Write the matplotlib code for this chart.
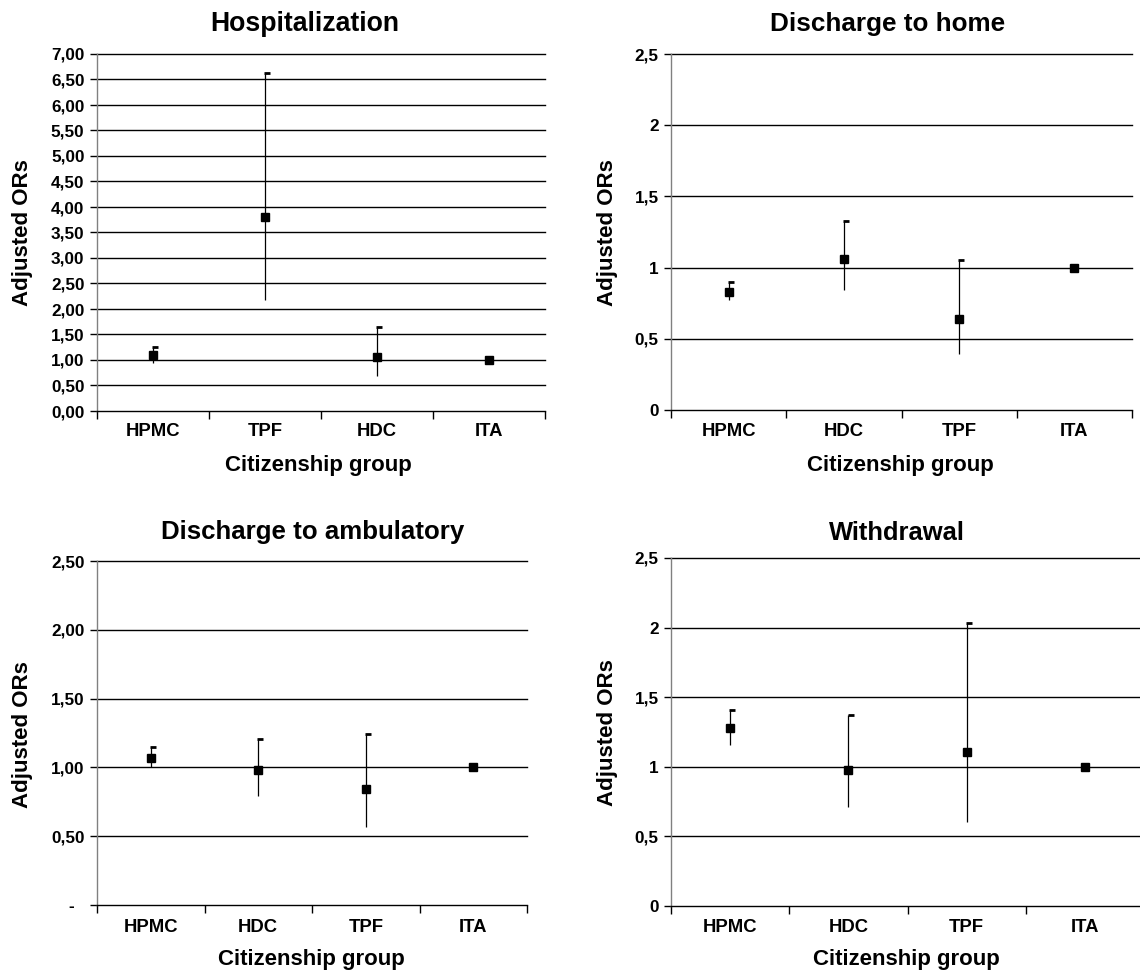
import matplotlib
matplotlib.use("Agg")
import matplotlib.pyplot as plt

plt.rcParams['font.family'] = ['Liberation Sans', 'DejaVu Sans']
plt.rcParams['font.weight'] = 'bold'

W, H = 1140, 971

# ---- data ----
titles = ["Hospitalization", "Discharge to home", "Discharge to ambulatory", "Withdrawal"]

cats_hosp = ["HPMC", "TPF", "HDC", "ITA"]
or_hosp = [1.09, 3.80, 1.06, 1.00]
lo_hosp = [0.94, 2.18, 0.68, 1.00]
hi_hosp = [1.25, 6.62, 1.65, 1.00]

cats_home = ["HPMC", "HDC", "TPF", "ITA"]
or_home = [0.83, 1.06, 0.64, 1.00]
lo_home = [0.77, 0.84, 0.39, 1.00]
hi_home = [0.90, 1.33, 1.05, 1.00]

cats_amb = ["HPMC", "HDC", "TPF", "ITA"]
or_amb = [1.07, 0.98, 0.84, 1.00]
lo_amb = [1.00, 0.79, 0.57, 1.00]
hi_amb = [1.15, 1.205, 1.24, 1.00]

cats_wd = ["HPMC", "HDC", "TPF", "ITA"]
or_wd = [1.28, 0.98, 1.105, 1.00]
lo_wd = [1.16, 0.71, 0.60, 1.00]
hi_wd = [1.41, 1.37, 2.03, 1.00]

yticks_hosp = [i * 0.5 for i in range(15)]
ylabels_hosp = [f"{v:.2f}".replace(".", ",") for v in yticks_hosp]
yticks_home = [0, 0.5, 1, 1.5, 2, 2.5]
ylabels_home = ["0", "0,5", "1", "1,5", "2", "2,5"]
yticks_amb = [0, 0.5, 1, 1.5, 2, 2.5]
ylabels_amb = ["-  ", "0,50", "1,00", "1,50", "2,00", "2,50"]
yticks_wd = [0, 0.5, 1, 1.5, 2, 2.5]
ylabels_wd = ["0", "0,5", "1", "1,5", "2", "2,5"]

panels = [
    dict(title=titles[0], cats=cats_hosp, v=or_hosp, lo=lo_hosp, hi=hi_hosp,
         yt=yticks_hosp, yl=ylabels_hosp, box=(97, 545, 54, 411), tfs=19.2,
         tpos=(305, 24), ylpos=(23, 233), xlpos=(318, 465), xtl_y=432),
    dict(title=titles[1], cats=cats_home, v=or_home, lo=lo_home, hi=hi_home,
         yt=yticks_home, yl=ylabels_home, box=(671, 1132, 54, 410), tfs=18.8,
         tpos=(888, 24), ylpos=(607, 233), xlpos=(900, 465), xtl_y=432),
    dict(title=titles[2], cats=cats_amb, v=or_amb, lo=lo_amb, hi=hi_amb,
         yt=yticks_amb, yl=ylabels_amb, box=(97, 527, 561, 905), tfs=18.6,
         tpos=(313, 532), ylpos=(23, 735), xlpos=(311, 959), xtl_y=927),
    dict(title=titles[3], cats=cats_wd, v=or_wd, lo=lo_wd, hi=hi_wd,
         yt=yticks_wd, yl=ylabels_wd, box=(671, 1144, 558, 906), tfs=18.4,
         tpos=(897, 533), ylpos=(607, 733), xlpos=(906, 959), xtl_y=927),
]

fig = plt.figure(figsize=(W / 100, H / 100), dpi=100)

for p in panels:
    l, r, t, b = p["box"]
    ax = fig.add_axes([l / W, 1 - b / H, (r - l) / W, (b - t) / H])
    n = len(p["cats"])
    x = list(range(n))
    ax.set_xlim(-0.5, n - 0.5)
    ax.set_ylim(p["yt"][0], p["yt"][-1])
    for yv in p["yt"][1:]:
        ax.axhline(yv, color="black", lw=1.0, zorder=1, clip_on=False)
    ax.vlines(x, p["lo"], p["hi"], color="black", lw=0.9, zorder=2)
    idx = [i for i in range(n) if p["hi"][i] != p["v"][i]]
    ax.plot([x[i] + 0.02 for i in idx], [p["hi"][i] for i in idx],
            ls="none", marker="_", ms=4, mew=2, color="black", zorder=3)
    ax.plot(x, p["v"], ls="none", marker="s", ms=5.5, color="black", zorder=4)

    ax.set_yticks(p["yt"])
    ax.set_yticklabels(p["yl"], fontsize=12.3, fontweight="bold")
    ax.set_xticks(x)
    ax.set_xticklabels([])
    for xi, c in zip(x, p["cats"]):
        fig.text((l + (xi + 0.5) * (r - l) / n) / W, 1 - p["xtl_y"] / H, c,
                 ha="center", va="center", fontsize=13.3, fontweight="bold")
    ax.set_xticks([i - 0.5 for i in range(n + 1)], minor=True)
    ax.tick_params(axis="x", which="major", length=0)
    ax.tick_params(axis="x", which="minor", length=6, width=1, direction="out")
    ax.tick_params(axis="y", length=5, width=1, direction="out", pad=4)
    for s in ["top", "right"]:
        ax.spines[s].set_visible(False)
    ax.spines["left"].set_color("#808080")
    ax.spines["left"].set_linewidth(1.0)
    ax.spines["bottom"].set_color("black")
    ax.spines["bottom"].set_linewidth(1.0)
    ax.patch.set_alpha(0)

    fig.text(p["tpos"][0] / W, 1 - p["tpos"][1] / H, p["title"], ha="center", va="center",
             fontsize=p["tfs"], fontweight="bold")
    fig.text(p["ylpos"][0] / W, 1 - p["ylpos"][1] / H, "Adjusted ORs", ha="center", va="center",
             rotation=90, fontsize=16, fontweight="bold")
    fig.text(p["xlpos"][0] / W, 1 - p["xlpos"][1] / H, "Citizenship group", ha="center", va="center",
             fontsize=16, fontweight="bold")

fig.savefig("out.png", dpi=100, facecolor="white")
